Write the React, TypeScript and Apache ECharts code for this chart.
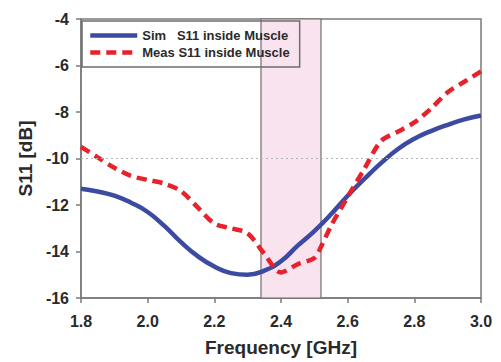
import React, { useEffect, useRef } from "react";
import * as echarts from "echarts";

const simFreq = [1.8, 1.85, 1.9, 1.95, 2.0, 2.05, 2.1, 2.15, 2.2, 2.25, 2.3, 2.35, 2.4, 2.45, 2.5, 2.55, 2.6, 2.65, 2.7, 2.75, 2.8, 2.85, 2.9, 2.95, 3.0];
const simS11 = [-11.3, -11.42, -11.6, -11.9, -12.3, -12.9, -13.6, -14.2, -14.65, -14.93, -15.0, -14.82, -14.42, -13.75, -13.12, -12.4, -11.6, -10.88, -10.2, -9.6, -9.15, -8.82, -8.55, -8.32, -8.15];

const measFreq = [1.8, 1.85, 1.9, 1.95, 2.0, 2.05, 2.1, 2.15, 2.2, 2.25, 2.3, 2.35, 2.4, 2.45, 2.5, 2.52, 2.55, 2.6, 2.65, 2.7, 2.75, 2.8, 2.85, 2.9, 2.95, 3.0];
const measS11 = [-9.5, -9.95, -10.4, -10.75, -10.92, -11.08, -11.4, -12.1, -12.8, -13.0, -13.22, -14.1, -14.9, -14.55, -14.28, -13.8, -12.9, -11.65, -10.45, -9.25, -8.85, -8.45, -7.85, -7.15, -6.7, -6.25];

const simName = "Sim   S11 inside Muscle";
const measName = "Meas S11 inside Muscle";

const bandStart = 2.34;
const bandEnd = 2.52;
const refLevel = -10;

const FONT = "Liberation Sans, Arial, sans-serif";

export default function App() {
  const ref = useRef<HTMLDivElement>(null);
  useEffect(() => {
    if (!ref.current) return;
    const chart = echarts.init(ref.current, undefined, { renderer: "svg" });
    const axisLine = { show: true, lineStyle: { color: "#7a7a7a", width: 1.5 } };
    chart.setOption({
      animation: false,
      backgroundColor: "#ffffff",
      grid: {
        left: 81,
        right: 20,
        top: 19,
        bottom: 62,
        show: true,
        borderColor: "#7a7a7a",
        borderWidth: 1.5,
        backgroundColor: "transparent",
      },
      legend: {
        data: [simName, measName],
        orient: "vertical",
        left: 82,
        top: 21,
        padding: [8, 10, 8, 6],
        itemWidth: 47,
        itemHeight: 14,
        itemGap: 4,
        itemStyle: { opacity: 0 },
        lineStyle: { width: 4.5 },
        borderColor: "#6e6e6e",
        borderWidth: 1.5,
        backgroundColor: "transparent",
        textStyle: { fontFamily: FONT, fontWeight: "bold", fontSize: 13, color: "#2a2a2a" },
      },
      xAxis: {
        type: "value",
        min: 1.8,
        max: 3.0,
        interval: 0.2,
        name: "Frequency [GHz]",
        nameLocation: "middle",
        nameGap: 40,
        nameTextStyle: { fontFamily: FONT, fontWeight: "bold", fontSize: 19, color: "#2a2a2a" },
        axisLine,
        axisTick: { show: true, inside: false, length: 5, lineStyle: { color: "#7a7a7a", width: 1.5 } },
        axisLabel: {
          margin: 15,
          fontFamily: FONT,
          fontWeight: "bold",
          fontSize: 16,
          color: "#2a2a2a",
          formatter: (v: number) => v.toFixed(1),
        },
        splitLine: { show: false },
      },
      yAxis: {
        type: "value",
        min: -16,
        max: -4,
        interval: 2,
        name: "S11 [dB]",
        nameLocation: "middle",
        nameGap: 45,
        nameTextStyle: { fontFamily: FONT, fontWeight: "bold", fontSize: 19, color: "#2a2a2a" },
        axisLine,
        axisTick: { show: true, inside: false, length: 5, lineStyle: { color: "#7a7a7a", width: 1.5 } },
        axisLabel: { margin: 12, fontFamily: FONT, fontWeight: "bold", fontSize: 16, color: "#2a2a2a" },
        splitLine: { show: false },
      },
      series: [
        {
          name: "band",
          type: "line",
          data: [],
          z: 1,
          silent: true,
          markArea: {
            silent: true,
            itemStyle: { color: "#f8e3ee", borderColor: "#6e6e6e", borderWidth: 1.2 },
            label: { show: false },
            data: [[{ xAxis: bandStart }, { xAxis: bandEnd }]],
          },
          markLine: {
            silent: true,
            symbol: "none",
            label: { show: false },
            lineStyle: { color: "#b5b5b5", type: [2, 3], width: 1.2 },
            data: [{ yAxis: refLevel }],
          },
        },
        {
          name: simName,
          type: "line",
          z: 3,
          symbol: "none",
          smooth: true,
          data: simFreq.map((f, i) => [f, simS11[i]]),
          lineStyle: { color: "#3c4ba1", width: 4.5 },
          itemStyle: { color: "#3c4ba1" },
        },
        {
          name: measName,
          type: "line",
          z: 4,
          symbol: "none",
          smooth: 0.3,
          data: measFreq.map((f, i) => [f, measS11[i]]),
          lineStyle: { color: "#e8222c", width: 4.5, type: [10, 6] },
          itemStyle: { color: "#e8222c" },
        },
      ],
    });
    return () => chart.dispose();
  }, []);
  return <div ref={ref} style={{ width: 501, height: 362, position: "absolute", left: 0, top: 0 }} />;
}
